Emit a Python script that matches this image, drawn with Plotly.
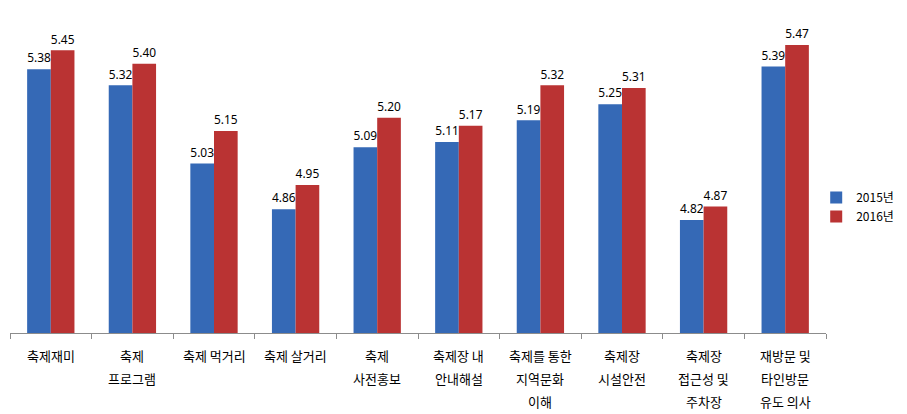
import plotly.graph_objects as go

categories = ["축제재미", "축제\n프로그램", "축제 먹거리", "축제 살거리", "축제\n사전홍보",
              "축제장 내\n안내해설", "축제를 통한\n지역문화\n이해", "축제장\n시설안전",
              "축제장\n접근성 및\n주차장", "재방문 및\n타인방문\n유도 의사"]
series_2015 = [5.38, 5.32, 5.03, 4.86, 5.09, 5.11, 5.19, 5.25, 4.82, 5.39]
series_2016 = [5.45, 5.40, 5.15, 4.95, 5.20, 5.17, 5.32, 5.31, 4.87, 5.47]
names = ["2015년", "2016년"]
colors = ["#3569B6", "#BA3333"]

font = "Noto Sans CJK KR, Malgun Gothic, sans-serif"
fig = go.Figure()
for name, vals, col in zip(names, [series_2015, series_2016], colors):
    fig.add_trace(go.Bar(
        x=categories, y=vals, name=name, marker=dict(color=col, line=dict(width=0)),
        text=[f"{v:.2f}" for v in vals], textposition="outside", cliponaxis=False,
        textfont=dict(size=12.5, color="#000000", family="Noto Sans, sans-serif"),
    ))

# category labels: one annotation per line for wider line spacing
for cat in categories:
    for i, line in enumerate(cat.split("\n")):
        fig.add_annotation(x=cat, y=0, xref="x", yref="paper", text=line,
                           showarrow=False, yanchor="middle", yshift=-22 - 23 * i,
                           font=dict(size=13, family=font, color="#000000"))

fig.update_layout(
    width=907, height=414, barmode="group", bargap=0.42, bargroupgap=0,
    margin=dict(l=10, r=81, t=10, b=81, autoexpand=False),
    plot_bgcolor="white", paper_bgcolor="white",
    font=dict(family=font, size=12, color="#000000"),
    legend=dict(x=0.988, y=0.39, xanchor="left", yanchor="middle",
                font=dict(size=12, family=font), itemwidth=30, tracegroupgap=4,
                bgcolor="rgba(0,0,0,0)"),
    xaxis=dict(showline=True, linecolor="#8c8c8c", linewidth=1, ticks="outside",
               tickson="boundaries", ticklen=5, tickcolor="#8c8c8c",
               showticklabels=False, automargin=False),
    yaxis=dict(range=[4.4, 5.6], visible=False, showgrid=False),
)
fig.write_html("out.html")
